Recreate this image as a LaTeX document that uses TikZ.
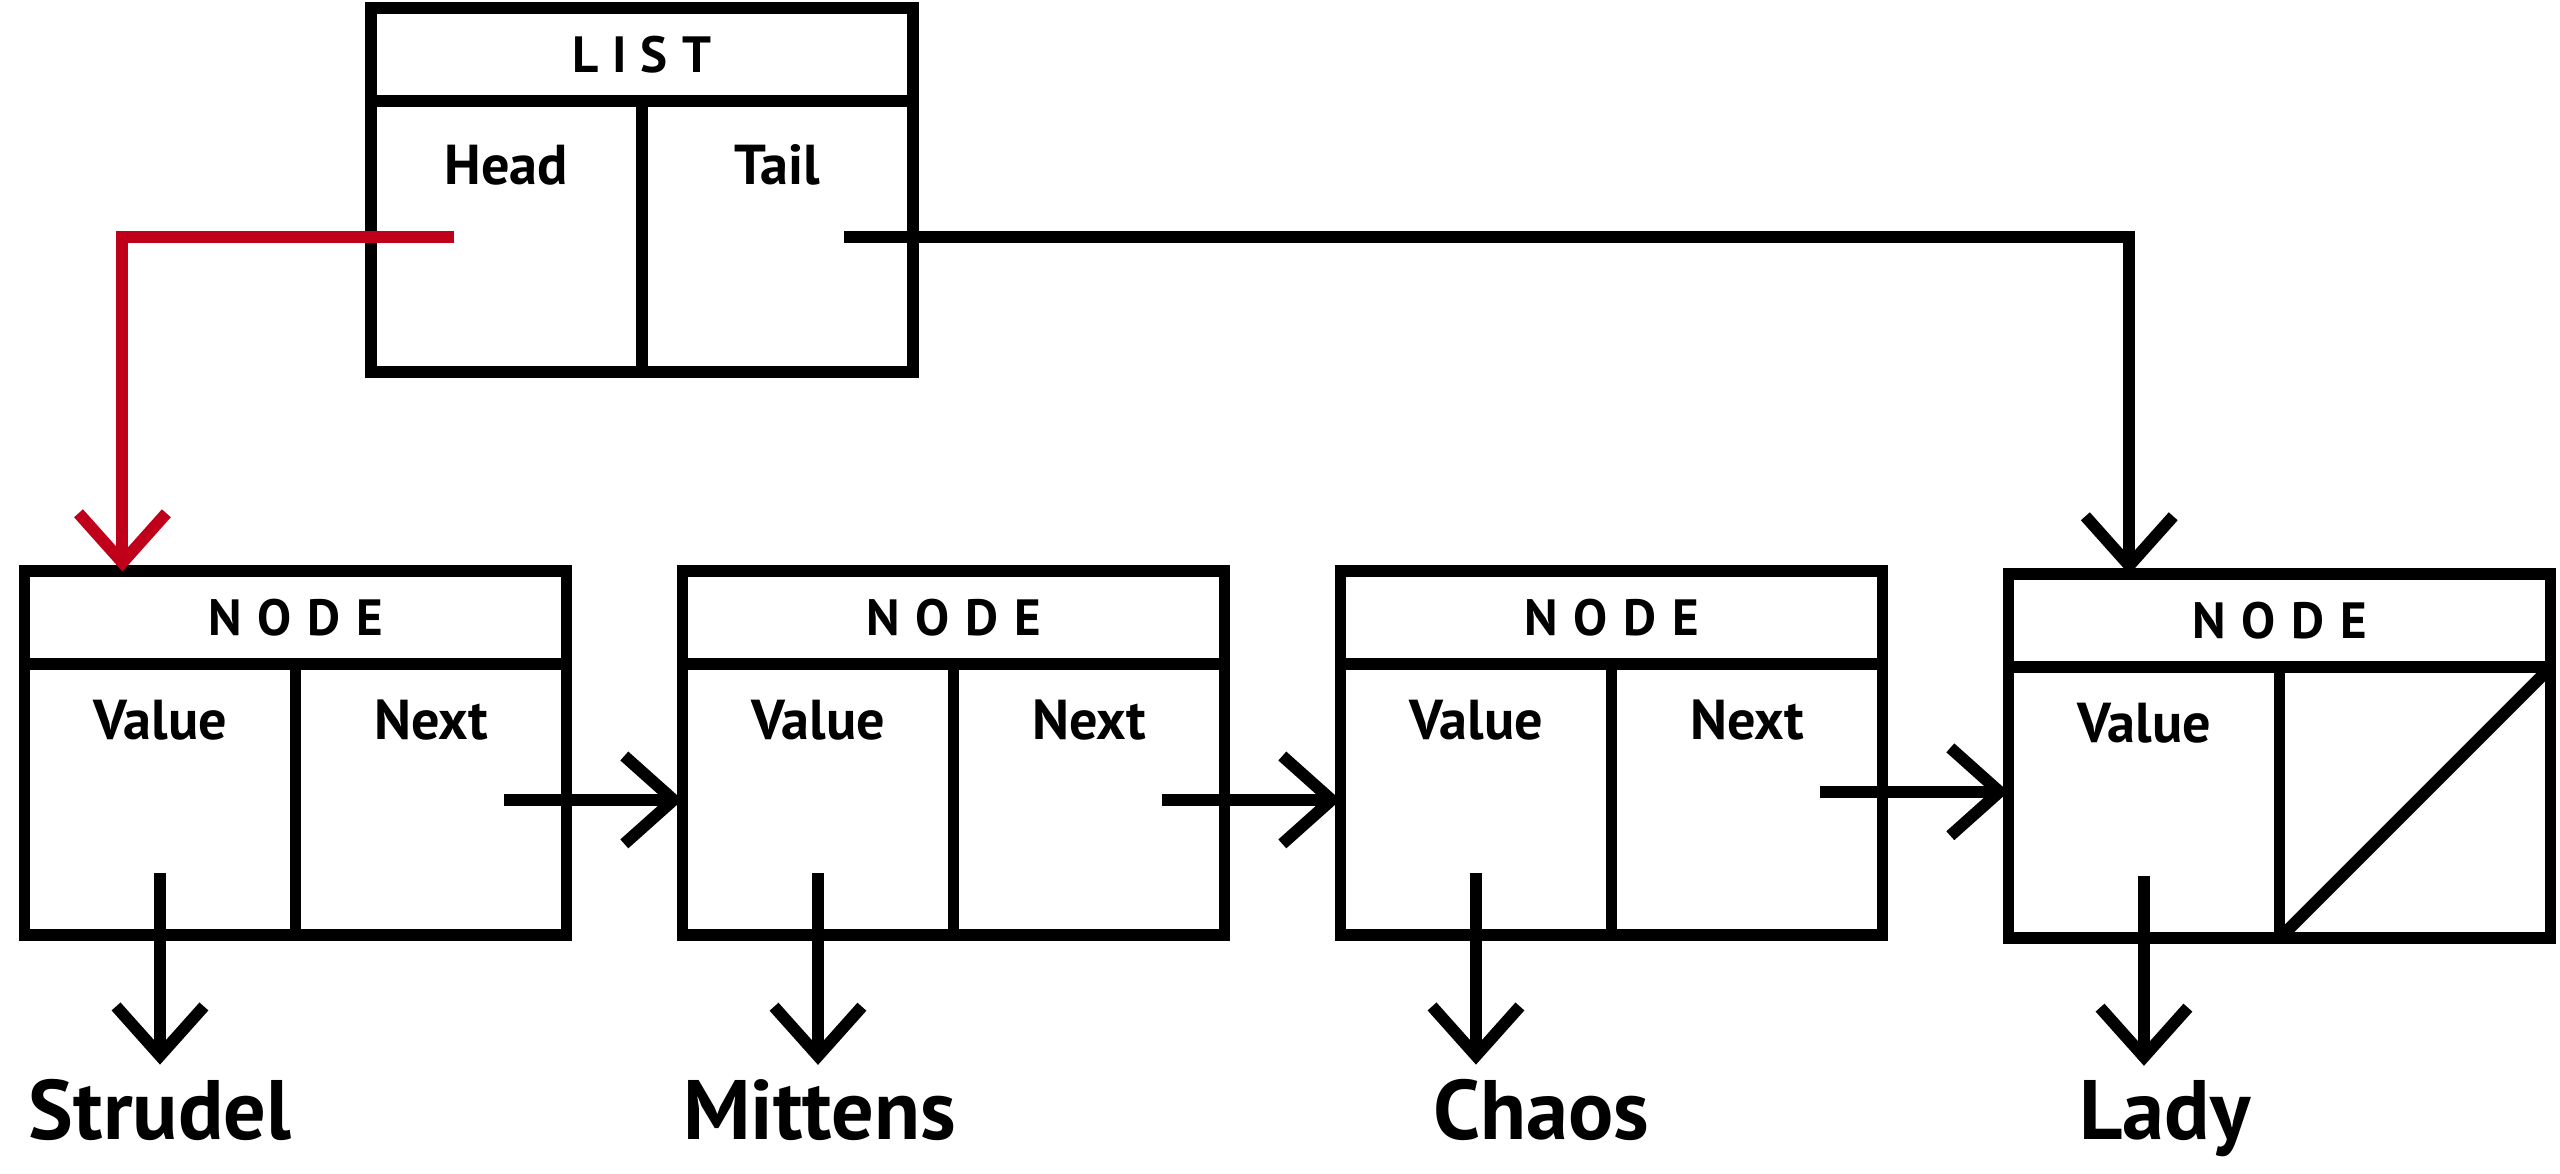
\documentclass[tikz,border=0pt]{standalone}
\usepackage{fontspec}
\setmainfont{PT Sans}
\usepackage{tikz}
\usetikzlibrary{arrows.meta}
\usetikzlibrary{positioning}
\usetikzlibrary{calc}

\definecolor{headred}{RGB}{192,0,26}

\tikzset{
  box/.style={draw, line width=3.4pt, inner sep=0pt, outer sep=0pt,
    anchor=north west},
  title/.style={box, minimum width=5.42cm, minimum height=0.93cm,
    font=\bfseries\fontsize{14.5}{14.5}\selectfont},
  field/.style={box, minimum width=2.71cm, minimum height=2.71cm},
  lab/.style 2 args={label={[anchor=base, yshift=#1,
    font=\bfseries\fontsize{16}{16}\selectfont]north:#2}},
  ptr/.style={line width=3.4pt, -{Straight Barb[length=14pt,width=25pt]}},
  pet/.style={anchor=base, inner sep=0pt,
    font=\bfseries\fontsize{24}{24}\selectfont},
}

\newcommand{\nodetitle}{N\kern4.5pt O\kern4.5pt D\kern4.5pt E}

\begin{document}
\begin{tikzpicture}[x=0.01633cm, y=-0.01633cm]
  \useasboundingbox (0,0) rectangle (1568,719);

  % the list
  \node [title] (list) at (227,5) {L\kern4pt I\kern4pt S\kern4pt T};
  \node [field, lab={-0.83cm}{Head}] (head) at (list.south west) {};
  \node [field, lab={-0.83cm}{Tail}] (tail) at (head.north east) {};

  % the nodes
  \node [title] (rec1) at (15,350) {\nodetitle};
  \node [title, right = 1.16cm of rec1] (rec2) {\nodetitle};
  \node [title, right = 1.16cm of rec2] (rec3) {\nodetitle};
  \node [title, right = 1.26cm of rec3, yshift=-0.03cm] (rec4) {\nodetitle};

  \node [field, lab={-0.75cm}{Value}] (val1) at (rec1.south west) {};
  \node [field, lab={-0.75cm}{Next}] (next1) at (val1.north east) {};
  \node [field, lab={-0.75cm}{Value}] (val2) at (rec2.south west) {};
  \node [field, lab={-0.75cm}{Next}] (next2) at (val2.north east) {};
  \node [field, lab={-0.75cm}{Value}] (val3) at (rec3.south west) {};
  \node [field, lab={-0.75cm}{Next}] (next3) at (val3.north east) {};
  \node [field, lab={-0.75cm}{Value}] (val4) at (rec4.south west) {};
  \node [field] (next4) at (val4.north east) {};

  \node [pet] (strudel) at (98,698) {Strudel};
  \node [pet] (mittens) at (502,698) {Mittens};
  \node [pet] (chaos) at (944,698) {Chaos};
  \node [pet] (lady) at (1326,698) {Lady};

  % head and tail
  \draw [ptr, headred] ($(head.center)+(-32,0)$) -| ($(rec1.north west)+(60,0)$);
  \draw [ptr] ($(tail.center)+(41,0)$) -| ($(rec4.north west)+(74,0)$);

  % next pointers
  \draw [ptr] ($(next1.east)+(-38,0)$) -- (val2.west);
  \draw [ptr] ($(next2.east)+(-38,0)$) -- (val3.west);
  \draw [ptr] ($(next3.east)+(-38,-5)$) coordinate (n3) -- (n3 -| val4.west);
  \draw [line width=3.4pt] (next4.south west) -- (next4.north east);

  % values
  \draw [ptr, shorten >=4pt] ($(val1.south)+(0,-38)$) -- (val1.south |- strudel.north);
  \draw [ptr, shorten >=4pt] ($(val2.south)+(0,-38)$) -- (val2.south |- mittens.north);
  \draw [ptr, shorten >=4pt] ($(val3.south)+(0,-38)$) -- (val3.south |- chaos.north);
  \draw [ptr, shorten >=4pt] ($(val4.south)+(0,-38)$) -- (val4.south |- lady.north);
\end{tikzpicture}
\end{document}
